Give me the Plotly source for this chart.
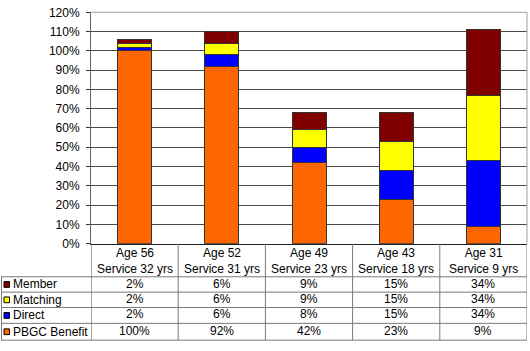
import plotly.graph_objects as go

categories = ["Age 56<br>Service 32 yrs", "Age 52<br>Service 31 yrs", "Age 49<br>Service 23 yrs",
              "Age 43<br>Service 18 yrs", "Age 31<br>Service 9 yrs"]
pbgc = [100, 92, 42, 23, 9]
direct = [2, 6, 8, 15, 34]
matching = [2, 6, 9, 15, 34]
member = [2, 6, 9, 15, 34]
y_ticks = [0, 10, 20, 30, 40, 50, 60, 70, 80, 90, 100, 110, 120]

series = [("PBGC Benefit", pbgc, "#FF6600"), ("Direct", direct, "#0000FF"),
          ("Matching", matching, "#FFFF00"), ("Member", member, "#800000")]

W, H = 530, 351
FONT = "Arial, Liberation Sans, sans-serif"
def py(px):
    return 1 - px / H
def px_(x):
    return x / W

fig = go.Figure()
xidx = list(range(len(categories)))
for name, vals, col in series:
    fig.add_trace(go.Bar(x=xidx, y=[v / 100 for v in vals], name=name,
                         marker=dict(color=col, line=dict(color="#333333", width=1)),
                         hoverinfo="skip"))

plot_left, plot_right = 91, 527
plot_top, plot_bottom = 5.5, 246.5

fig.update_layout(
    width=W, height=H, margin=dict(l=0, r=0, t=0, b=0),
    barmode="stack", bargap=0.61, showlegend=False,
    paper_bgcolor="white", plot_bgcolor="white",
    font=dict(family=FONT, size=12, color="black"),
    xaxis=dict(domain=[px_(plot_left), px_(plot_right)], range=[-0.5, 4.5],
               showticklabels=False, showgrid=False, zeroline=False,
               showline=True, linecolor="#222222", linewidth=1, ticks=""),
    yaxis=dict(domain=[py(plot_bottom), py(plot_top)], range=[0, 1.2001],
               tickvals=[t / 100 for t in y_ticks], ticktext=[f"{t}%" for t in y_ticks],
               showgrid=True, gridcolor="#4a4a4a", gridwidth=1, zeroline=False,
               showline=True, linecolor="#666666", linewidth=1,
               ticks="outside", ticklen=4, tickcolor="#333333",
               ticklabelstandoff=4, ticklabeloverflow="allow",
               tickfont=dict(family=FONT, size=12, color="black")),
)

shapes = []
# plot area border (top and right)
shapes.append(dict(type="line", xref="paper", yref="paper", x0=px_(plot_left), x1=px_(plot_right),
                   y0=py(plot_top), y1=py(plot_top), line=dict(color="#A0A0A0", width=1)))
shapes.append(dict(type="line", xref="paper", yref="paper", x0=px_(plot_right), x1=px_(plot_right),
                   y0=py(plot_top), y1=py(plot_bottom), line=dict(color="#A0A0A0", width=1)))

# table geometry
row_lines = [281, 297, 313, 329.5, 347]
header_top = plot_bottom
grid_col = "#7a7a7a"
for yl in row_lines:
    shapes.append(dict(type="line", xref="paper", yref="paper", x0=px_(1), x1=px_(plot_right),
                       y0=py(yl), y1=py(yl), line=dict(color=grid_col, width=1)))
# vertical column separators via x axis scale
for i in range(len(categories) + 1):
    shapes.append(dict(type="line", xref="x", yref="paper", x0=i - 0.5, x1=i - 0.5,
                       y0=py(header_top), y1=py(row_lines[-1]),
                       line=dict(color=grid_col if 0 < i else "#555555", width=1)))
# left border of legend column
shapes.append(dict(type="line", xref="paper", yref="paper", x0=px_(1.5), x1=px_(1.5),
                   y0=py(row_lines[0]), y1=py(row_lines[-1]), line=dict(color=grid_col, width=1)))

annotations = []
# header labels
for i, c in enumerate(categories):
    annotations.append(dict(x=i, xref="x", y=py(265), yref="paper", text=c, showarrow=False,
                            font=dict(family=FONT, size=12, color="black"),
                            xanchor="center", yanchor="middle", align="center"))

table_rows = [("Member", member, "#800000"), ("Matching", matching, "#FFFF00"),
              ("Direct", direct, "#0000FF"), ("PBGC Benefit", pbgc, "#FF6600")]
for r, (name, vals, col) in enumerate(table_rows):
    top, bot = row_lines[r], row_lines[r + 1]
    cy = (top + bot) / 2
    shapes.append(dict(type="rect", xref="paper", yref="paper", x0=px_(4), x1=px_(9.5),
                       y0=py(cy - 3), y1=py(cy + 3), fillcolor=col,
                       line=dict(color="black", width=1)))
    annotations.append(dict(x=px_(11), xref="paper", y=py(cy), yref="paper", text=name,
                            showarrow=False, xanchor="left", yanchor="middle",
                            font=dict(family=FONT, size=12, color="black")))
    for i, v in enumerate(vals):
        annotations.append(dict(x=i, xref="x", y=py(cy - 1), yref="paper", text=f"{v}%",
                                showarrow=False, xanchor="center", yanchor="middle",
                                font=dict(family=FONT, size=12, color="black")))

fig.update_layout(shapes=shapes, annotations=annotations)
fig.write_html("out.html")
